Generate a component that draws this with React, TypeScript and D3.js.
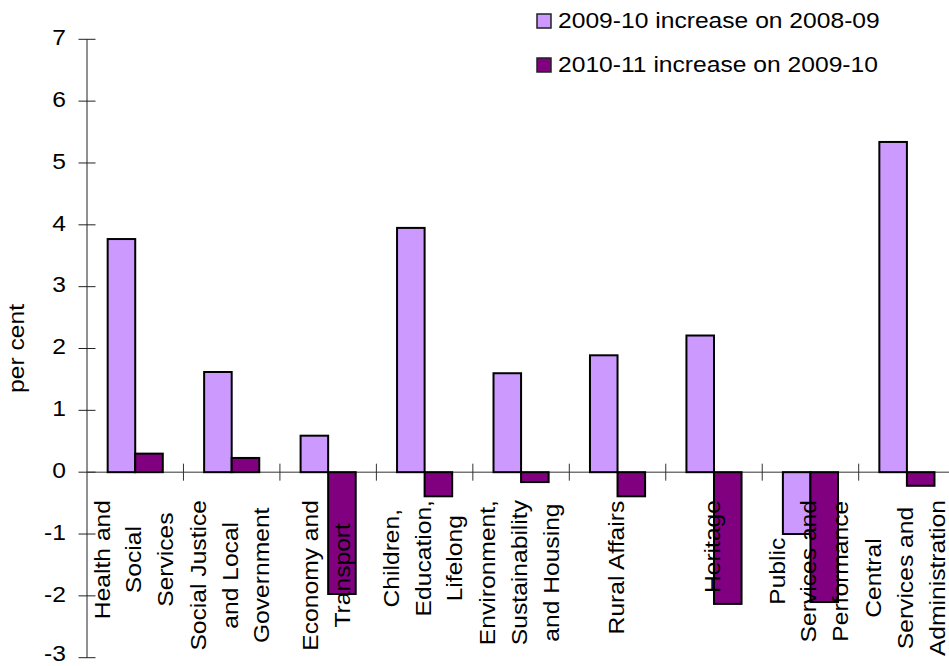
import React from "react";
import * as d3 from "d3";

const categories: string[][] = [
  ["Health and", "Social", "Services"],
  ["Social Justice", "and Local", "Government"],
  ["Economy and", "Transport"],
  ["Children,", "Education,", "Lifelong"],
  ["Environment,", "Sustainability", "and Housing"],
  ["Rural Affairs"],
  ["Heritage"],
  ["Public", "Services and", "Performance"],
  ["Central", "Services and", "Administration"],
];
const seriesNames = ["2009-10 increase on 2008-09", "2010-11 increase on 2009-10"];
const series2009 = [3.77, 1.62, 0.59, 3.95, 1.6, 1.89, 2.21, -1.0, 5.34];
const series2010 = [0.3, 0.23, -1.97, -0.39, -0.16, -0.39, -2.13, -2.1, -0.22];
const yTicks = [-3, -2, -1, 0, 1, 2, 3, 4, 5, 6, 7];
const colors = ["#CC99FF", "#800080"];

const W = 949;
const H = 666;
const FS = 22;
const SX = 1.12;
const FONT = '"Liberation Sans", Arial, sans-serif';

function measure(t: string): number {
  const c = document.createElement("canvas").getContext("2d");
  if (!c) return t.length * FS * 0.5;
  c.font = `${FS}px "Liberation Sans"`;
  return c.measureText(t).width * SX;
}

export default function App() {
  const x0 = 87;
  const step = 96.46;
  const y = d3.scaleLinear().domain([-3, 7]).range([657.7, 39.3]);
  const x = d3
    .scaleBand<number>()
    .domain(d3.range(categories.length))
    .range([x0, x0 + step * categories.length])
    .paddingInner(0)
    .paddingOuter(0);
  const barW = step / 3.5;
  const off = barW * 0.75;
  const y0 = y(0);
  const seriesData = [series2009, series2010];
  const lineH = 31.7;

  return (
    <svg
      width={W}
      height={H}
      style={{ position: "absolute", left: 0, top: 0, display: "block", background: "#fff" }}
      fontFamily={FONT}
    >
      {/* y axis */}
      <line x1={x0} x2={x0} y1={y(7)} y2={y(-3)} stroke="#222" strokeWidth={1} />
      {yTicks.map((t) => (
        <g key={t}>
          <line x1={x0 - 8.5} x2={x0 + 8.5} y1={y(t)} y2={y(t)} stroke="#222" strokeWidth={1} />
          <text
            transform={`translate(${66},${Math.min(y(t) + 5.8, 661)}) scale(${SX},1)`}
            textAnchor="end"
            fontSize={FS}
            fill="#000"
          >
            {t}
          </text>
        </g>
      ))}
      <text
        transform={`translate(${24},${y(2)}) rotate(-90) scale(${SX},1)`}
        textAnchor="middle"
        fontSize={FS}
        fill="#000"
      >
        per cent
      </text>
      {/* zero axis */}
      <line x1={x0} x2={W} y1={y0} y2={y0} stroke="#333" strokeWidth={1} />
      {categories.map((_, i) => (
        <line
          key={"ct" + i}
          x1={(x(i) as number) + step}
          x2={(x(i) as number) + step}
          y1={y0 - 8.5}
          y2={y0 + 8.5}
          stroke="#333"
          strokeWidth={1}
        />
      ))}
      {/* bars */}
      {seriesData.map((s, si) =>
        s.map((v, i) => {
          const bx = (x(i) as number) + off + si * barW;
          const top = Math.min(y(v), y0);
          const h = Math.abs(y(v) - y0);
          return (
            <rect
              key={si + "-" + i}
              x={bx}
              y={top}
              width={barW}
              height={h}
              fill={colors[si]}
              stroke="#000"
              strokeWidth={2}
            />
          );
        })
      )}
      {/* category labels */}
      {categories.map((lines, i) => {
        const cx = (x(i) as number) + step / 2;
        const maxLen = Math.max(...lines.map(measure));
        const cy = 500 + maxLen / 2;
        const n = lines.length;
        return lines.map((ln, j) => {
          const bx = cx + (j - (n - 1) / 2) * lineH + 6;
          return (
            <text
              key={i + "-" + j}
              transform={`translate(${bx},${cy}) rotate(-90) scale(${SX},1)`}
              textAnchor="middle"
              fontSize={FS}
              fill="#000"
            >
              {ln}
            </text>
          );
        });
      })}
      {/* legend */}
      {seriesNames.map((name, i) => (
        <g key={name}>
          <rect
            x={537}
            y={14 + i * 44}
            width={14}
            height={14}
            fill={colors[i]}
            stroke="#222"
            strokeWidth={1.5}
          />
          <text
            transform={`translate(${558},${28.3 + i * 43.5}) scale(${SX},1)`}
            fontSize={FS}
            fill="#000"
          >
            {name}
          </text>
        </g>
      ))}
    </svg>
  );
}
